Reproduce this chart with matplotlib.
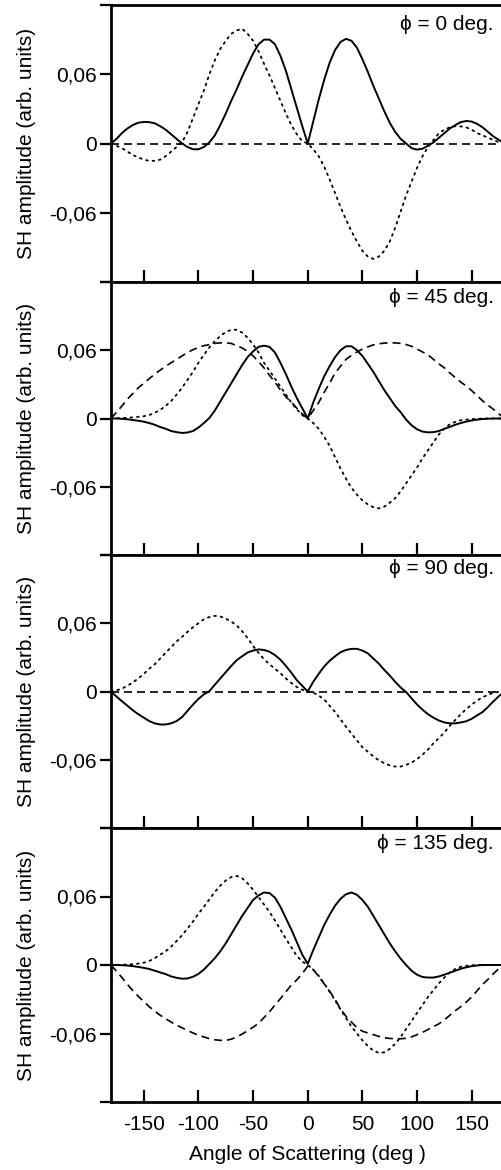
import numpy as np
import matplotlib
matplotlib.use("Agg")
import matplotlib.pyplot as plt

plt.rcParams['font.family'] = ['Liberation Sans', 'DejaVu Sans']
plt.rcParams['font.size'] = 15

# scattering angle grid (deg)
angle = np.arange(-180, 181, 5)
zero_angle = [-180, 180]

phi_labels = ['ϕ = 0 deg.', 'ϕ = 45 deg.', 'ϕ = 90 deg.', 'ϕ = 135 deg.']

# phi = 0
phi0_solid = [0, .004, .009, .013, .016, .018, .0187, .0185, .0175, .015, .012, .008,
              .004, .000, -.003, -.005, -.005, -.003, .001, .007, .016, .026, .037, .047,
              .058, .068, .078, .086, .090, .090, .086, .076, .063, .047, .031, .015,
              0, .019, .038, .055, .070, .081, .088, .0907, .089, .083, .073, .062,
              .050, .039, .028, .018, .010, .004, .000, -.004, -.0053, -.0045, -.002, .001,
              .005, .009, .013, .016, .0185, .0195, .019, .017, .014, .010, .006, .003, 0]
phi0_dotted = [0, -.002, -.004, -.007, -.010, -.012, -.014, -.015, -.015, -.014, -.011, -.007,
               -.003, .001, .010, .022, .034, .046, .060, .072, .082, .089, .095, .098,
               .0995, .095, .089, .080, .069, .059, .048, .037, .026, .016, .008, .002,
               0, -.005, -.011, -.020, -.031, -.043, -.055, -.066, -.076, -.085, -.093, -.098,
               -.100, -.098, -.093, -.085, -.073, -.059, -.045, -.033, -.021, -.011, -.003, .003,
               .009, .012, .014, .015, .0148, .014, .012, .009, .007, .005, .003, .001, 0]
phi0_dashed = [0.0, 0.0]

# phi = 45
phi45_solid = [0, 0, -.0003, -.0007, -.0013, -.002, -.0028, -.004, -.0055, -.0075, -.009, -.011,
               -.012, -.0127, -.0123, -.011, -.008, -.004, .0005, .007, .015, .023, .031, .039,
               .047, .054, .059, .063, .064, .063, .058, .049, .039, .028, .018, .009,
               0, .014, .026, .037, .046, .054, .060, .0635, .0635, .060, .055, .048,
               .041, .033, .025, .018, .011, .0055, -.001, -.006, -.0095, -.0115, -.0122, -.012,
               -.011, -.009, -.0074, -.0055, -.004, -.0027, -.0017, -.001, -.0004, -.0002, 0, 0, 0]
phi45_dotted = [0, .0002, .0004, .0006, .001, .0015, .002, .003, .005, .0075, .011, .0153,
                .021, .027, .034, .041, .049, .056, .0625, .068, .0725, .076, .078, .078,
                .0755, .071, .065, .058, .049, .042, .035, .028, .021, .014, .008, .003,
                0, -.004, -.009, -.016, -.024, -.034, -.044, -.053, -.061, -.067, -.072, -.0755,
                -.078, -.079, -.0775, -.074, -.070, -.064, -.057, -.050, -.043, -.035, -.028, -.021,
                -.014, -.009, -.005, -.003, -.0015, -.001, -.0005, -.0003, 0, 0, 0, 0, 0]
phi45_dashed = [0, .0055, .011, .017, .022, .027, .031, .035, .039, .0425, .046, .049,
                .052, .055, .058, .0605, .0625, .064, .065, .066, .0665, .0665, .066, .064,
                .062, .059, .055, .050, .0445, .038, .032, .025, .019, .0145, .009, .004,
                0, .007, .014, .023, .031, .040, .046, .052, .0555, .0585, .061, .063,
                .0647, .0657, .0663, .0665, .0665, .066, .065, .0635, .061, .0585, .056, .052,
                .048, .0445, .040, .036, .032, .0286, .0245, .020, .0155, .0115, .008, .004, 0]

# phi = 90
phi90_solid = [0, -.0045, -.0085, -.0125, -.0165, -.020, -.023, -.026, -.028, -.029, -.029, -.028,
               -.026, -.0225, -.017, -.0115, -.0065, -.0025, .0003, .006, .0115, .017, .0225, .0275,
               .031, .0343, .036, .037, .0365, .035, .032, .028, .0225, .0165, .010, .005,
               0, .0085, .0155, .022, .027, .031, .0345, .0365, .0375, .0375, .036, .0335,
               .029, .0245, .019, .014, .0085, .0035, -.0005, -.006, -.0115, -.016, -.020, -.023,
               -.0255, -.0272, -.028, -.028, -.0272, -.0262, -.024, -.021, -.018, -.0135, -.0085, -.004, 0]
phi90_dotted = [0, .001, .0025, .005, .008, .0115, .0155, .020, .024, .029, .034, .039,
                .044, .048, .0525, .0565, .060, .0635, .0655, .0665, .066, .064, .0615, .058,
                .053, .047, .040, .034, .0284, .024, .020, .016, .0115, .0075, .004, .0015,
                0, -.001, -.0035, -.007, -.0125, -.018, -.0245, -.031, -.037, -.043, -.049, -.053,
                -.057, -.0605, -.063, -.065, -.066, -.066, -.0645, -.0625, -.0595, -.0555, -.051, -.0455,
                -.041, -.036, -.030, -.025, -.020, -.0155, -.0115, -.008, -.005, -.003, -.001, -.0003, 0]
phi90_dashed = [0.0, 0.0]

# phi = 135
phi135_solid = [0, 0, -.0002, -.0005, -.001, -.0017, -.0025, -.0035, -.005, -.0065, -.008, -.010,
                -.0112, -.012, -.0118, -.0103, -.0078, -.004, .001, .006, .012, .019, .027, .035,
                .043, .050, .057, .061, .0635, .063, .059, .051, .041, .031, .020, .009,
                .001, .013, .024, .035, .044, .052, .058, .062, .0635, .0615, .057, .051,
                .043, .035, .027, .019, .012, .0055, 0, -.005, -.0085, -.0105, -.011, -.011,
                -.010, -.0085, -.0067, -.005, -.0033, -.002, -.001, -.0004, 0, 0, 0, 0, 0]
phi135_dotted = [0, .0001, .0002, .0004, .0007, .0012, .002, .0035, .006, .009, .012, .016,
                 .021, .026, .032, .038, .045, .051, .0575, .064, .0695, .074, .077, .078,
                 .076, .0715, .066, .0595, .053, .0465, .039, .031, .023, .0155, .008, .003,
                 0, -.004, -.0095, -.016, -.0235, -.031, -.039, -.0465, -.054, -.060, -.066, -.071,
                 -.075, -.077, -.0765, -.0735, -.069, -.063, -.056, -.049, -.042, -.035, -.028, -.022,
                 -.016, -.011, -.0065, -.0035, -.0015, -.0007, -.0003, 0, 0, 0, 0, 0, 0]
phi135_dashed = [0, -.0055, -.011, -.017, -.0225, -.0275, -.032, -.0365, -.0405, -.044, -.047, -.050,
                 -.0527, -.055, -.0574, -.0595, -.0615, -.063, -.0645, -.0655, -.066, -.066, -.065, -.063,
                 -.0605, -.0575, -.0545, -.051, -.046, -.041, -.035, -.0295, -.0235, -.0175, -.013, -.0075,
                 -.001, -.004, -.010, -.0165, -.023, -.030, -.0385, -.045, -.050, -.055, -.058, -.0595,
                 -.061, -.0625, -.0637, -.0643, -.0646, -.0646, -.0642, -.063, -.061, -.059, -.0565, -.054,
                 -.0515, -.048, -.044, -.040, -.0365, -.0325, -.028, -.0225, -.017, -.0125, -.0075, -.003, 0]

panels = [
    (phi0_solid, phi0_dotted, zero_angle, phi0_dashed),
    (phi45_solid, phi45_dotted, angle, phi45_dashed),
    (phi90_solid, phi90_dotted, zero_angle, phi90_dashed),
    (phi135_solid, phi135_dotted, angle, phi135_dashed),
]

W, H = 502, 1170
fig = plt.figure(figsize=(W / 100, H / 100), dpi=100)

# panel boxes in pixels (top, bottom)
x0, x1 = 111, 504.5
rows = [(5, 282), (282, 555), (555, 828), (828, 1102)]
text_y = [0.928, 0.945, 0.952, 0.945]

for i, ((solid, dotted, dash_x, dashed), (top, bot)) in enumerate(zip(panels, rows)):
    ax = fig.add_axes([x0 / W, 1 - bot / H, (x1 - x0) / W, (bot - top) / H])
    ax.plot(angle, solid, color='black', lw=1.4, ls='-')
    ax.plot(angle, dotted, color='black', lw=1.3, ls=(0, (1, 2.6)),
            dash_capstyle='round')
    ax.plot(dash_x, dashed, color='black', lw=1.2, ls=(0, (4.8, 3)))

    ax.set_xlim(-180, 180)
    ax.set_ylim(-0.12, 0.12)
    ax.spines['right'].set_visible(False)
    for s in ('left', 'top', 'bottom'):
        ax.spines[s].set_linewidth(2)

    ax.set_yticks([-0.12, -0.06, 0, 0.06, 0.12])
    ax.set_yticklabels(['', '-0,06', '0', '0,06', ''])
    ax.tick_params(axis='y', direction='out', length=8, width=1.6, pad=2)
    ax.set_xticks([-150, -100, -50, 0, 50, 100, 150])
    ax.tick_params(axis='x', direction='in', length=9, width=1.6, pad=9)
    if i < 3:
        ax.set_xticklabels([])
    else:
        ax.set_xticklabels(['-150', '-100', '-50', '0', '50', '100', '150'])
        ax.set_xlabel('Angle of Scattering (deg )', labelpad=8)

    ax.set_ylabel('SH amplitude (arb. units)', labelpad=10)
    ax.text(0.973, text_y[i], phi_labels[i], transform=ax.transAxes,
            ha='right', va='center', fontsize=15)

fig.savefig('out.png', dpi=100)
